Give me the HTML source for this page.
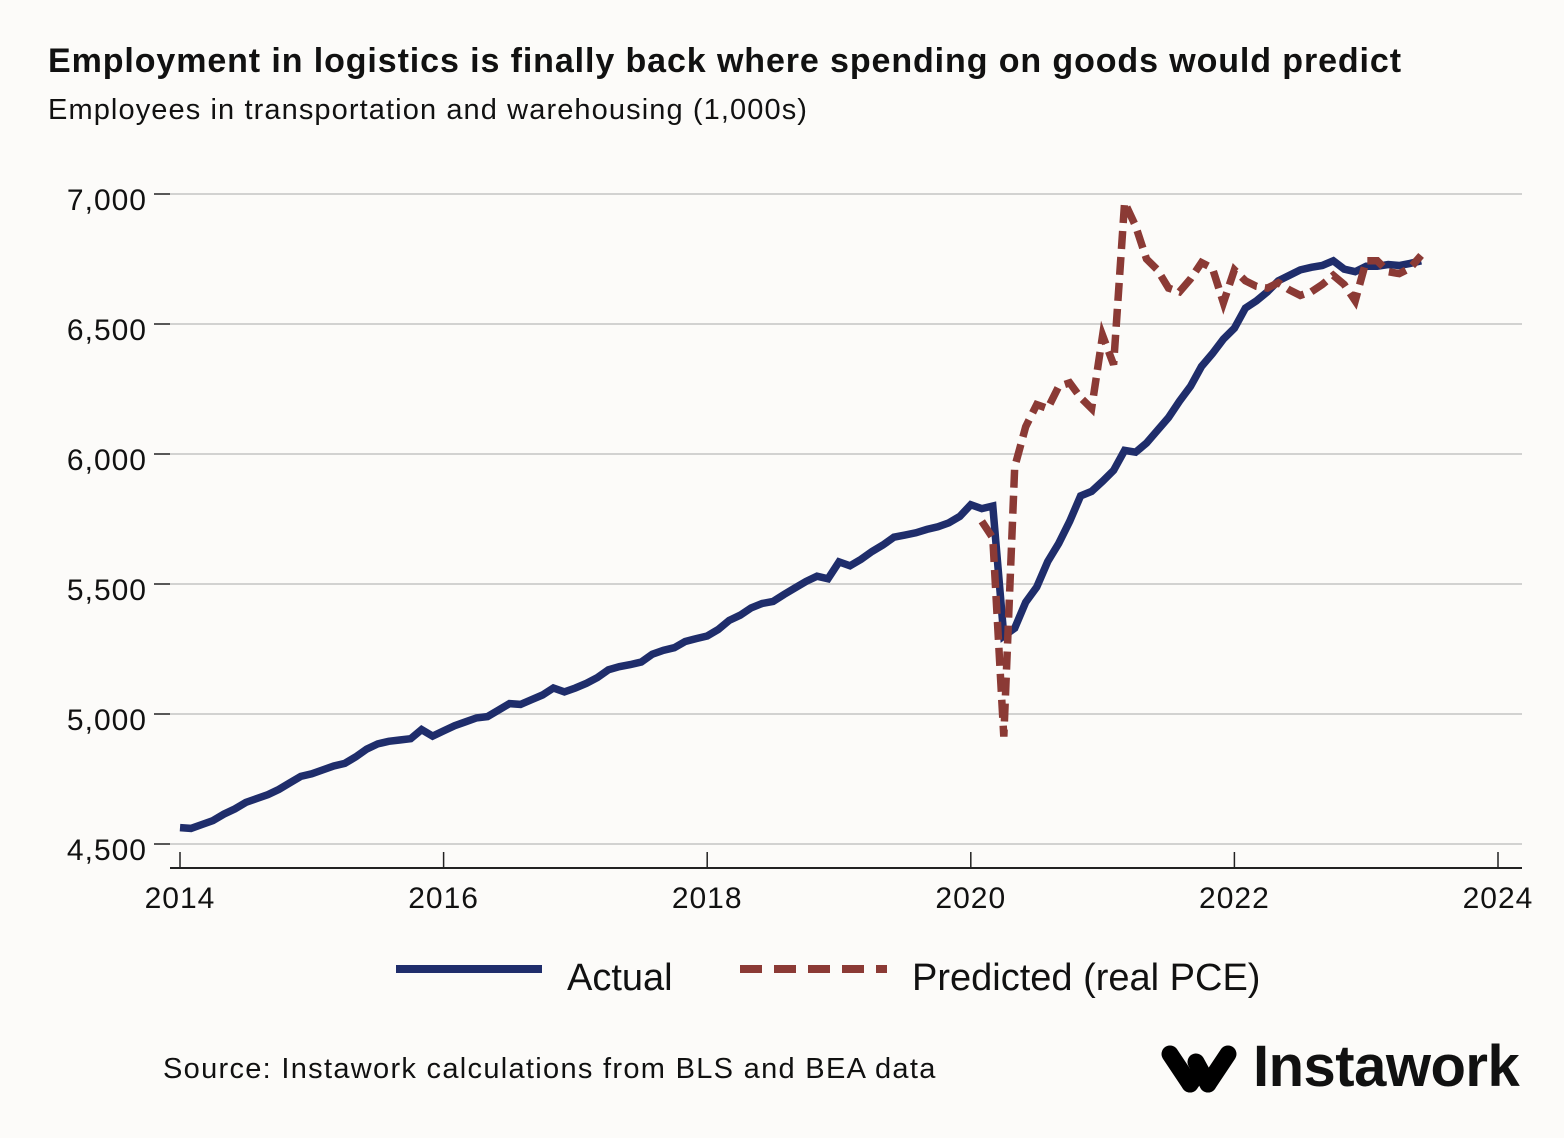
<!DOCTYPE html>
<html><head><meta charset="utf-8">
<style>
html,body{margin:0;padding:0;background:#fcfbf9;}
body{width:1564px;height:1138px;position:relative;overflow:hidden;font-family:"Liberation Sans",sans-serif;color:#111;}
.t{position:absolute;white-space:nowrap;}
</style></head>
<body>
<div class="t" style="left:48px;top:42px;font-size:34px;font-weight:bold;letter-spacing:0.9px;">Employment in logistics is finally back where spending on goods would predict</div>
<div class="t" style="left:48px;top:94px;font-size:29px;letter-spacing:1.1px;">Employees in transportation and warehousing (1,000s)</div>
<svg id="chart" width="1564" height="1138" style="position:absolute;left:0;top:0;"></svg>
<div class="t" style="left:163px;top:1053px;font-size:29px;letter-spacing:1.3px;">Source: Instawork calculations from BLS and BEA data</div>
<svg width="90" height="60" style="position:absolute;left:1152px;top:1040px;">
<g stroke="#000" stroke-width="17" stroke-linecap="round" fill="none">
<line x1="18" y1="14" x2="38" y2="44"/><line x1="38" y1="44" x2="48" y2="30"/><line x1="56" y1="44" x2="76" y2="14"/><line x1="44" y1="22" x2="56" y2="44"/>
</g></svg>
<div class="t" style="left:1253px;top:1033px;font-size:58px;font-weight:bold;letter-spacing:-0.5px;">Instawork</div>
<script>
const yTicks=[4500,5000,5500,6000,6500,7000];
const yTickLabels=["4,500","5,000","5,500","6,000","6,500","7,000"];
const xTicks=[2014,2016,2018,2020,2022,2024];
const xTickLabels=["2014","2016","2018","2020","2022","2024"];
const startYear=2014;
const actual=[4563,4560,4575,4590,4615,4635,4660,4675,4690,4710,4735,4760,4770,4785,4800,4810,4835,4865,4885,4895,4900,4905,4940,4915,4935,4955,4970,4985,4990,5015,5040,5037,5055,5073,5100,5085,5100,5118,5140,5170,5182,5190,5200,5230,5245,5255,5279,5290,5300,5325,5360,5380,5408,5425,5433,5460,5485,5510,5530,5520,5585,5570,5595,5625,5650,5680,5688,5697,5710,5720,5735,5760,5805,5790,5800,5300,5330,5430,5488,5586,5656,5741,5839,5856,5895,5937,6014,6007,6042,6091,6140,6203,6260,6337,6386,6442,6484,6561,6589,6624,6666,6687,6708,6718,6725,6743,6711,6701,6722,6722,6729,6725,6733,6743];
const predictedStartMonth=73;
const predicted=[5741,5677,4913,5950,6105,6190,6175,6260,6274,6217,6175,6456,6344,6968,6877,6750,6708,6638,6624,6673,6736,6715,6582,6708,6666,6645,6638,6659,6631,6610,6624,6652,6687,6652,6589,6743,6743,6701,6694,6715,6764];

const svg=document.getElementById('chart');
const NS='http://www.w3.org/2000/svg';
function yS(v){return 844-(v-4500)*0.26;}
function xS(yr){return 180+(yr-2014)*131.8;}
function xM(m){return xS(startYear+m/12);}
function mk(tag,attrs){const e=document.createElementNS(NS,tag);for(const k in attrs)e.setAttribute(k,attrs[k]);svg.appendChild(e);return e;}

yTicks.forEach((v,i)=>{
  const g=mk('line',{x1:170,x2:1522,y1:yS(v),y2:yS(v),stroke:'#c4c4c4','stroke-width':1.5});
  
  
  const tk=mk('line',{x1:154,x2:170,y1:yS(v),y2:yS(v),stroke:'#222','stroke-width':1.5});
  
  
  const t=mk('text',{x:147,y:yS(v)+16,'text-anchor':'end','font-size':30,'font-family':'Liberation Sans, sans-serif',fill:'#111','letter-spacing':'1'});
  t.textContent=yTickLabels[i];
  
  
});
const ax=mk('line',{x1:170,x2:1522,y1:868,y2:868,stroke:'#222','stroke-width':2});


xTicks.forEach((yr,i)=>{
  const tk=mk('line',{x1:xS(yr),x2:xS(yr),y1:852,y2:868,stroke:'#222','stroke-width':1.5});
  
  
  const t=mk('text',{x:xS(yr),y:908,'text-anchor':'middle','font-size':30,'font-family':'Liberation Sans, sans-serif',fill:'#111','letter-spacing':'1'});
  t.textContent=xTickLabels[i];
  
  
});
const pA=actual.map((v,i)=>xM(i).toFixed(1)+','+yS(v).toFixed(1)).join(' ');
const la=mk('polyline',{points:pA,fill:'none',stroke:'#1f2d6b','stroke-width':7.5,'stroke-linejoin':'miter'});


const pP=predicted.map((v,i)=>xM(i+predictedStartMonth).toFixed(1)+','+yS(v).toFixed(1)).join(' ');
const lp=mk('polyline',{points:pP,fill:'none',stroke:'#8b3a35','stroke-width':7.5,'stroke-dasharray':'18 8'});



const l1=mk('line',{x1:396,x2:542,y1:969,y2:969,stroke:'#1f2d6b','stroke-width':8});


const t1=mk('text',{x:567,y:990,'font-size':38,'font-family':'Liberation Sans, sans-serif',fill:'#111'});
t1.textContent='Actual';


const l2=mk('line',{x1:740,x2:887,y1:969,y2:969,stroke:'#8b3a35','stroke-width':8,'stroke-dasharray':'22 12'});


const t2=mk('text',{x:912,y:990,'font-size':38,'font-family':'Liberation Sans, sans-serif',fill:'#111'});
t2.textContent='Predicted (real PCE)';


</script>
</body></html>
